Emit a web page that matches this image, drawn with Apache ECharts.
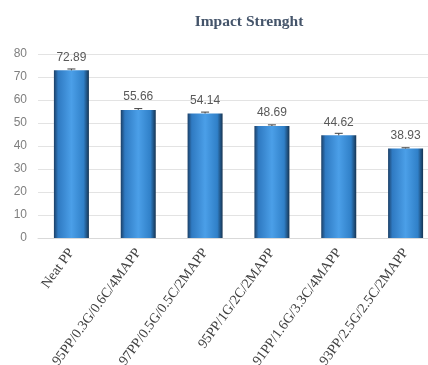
<!DOCTYPE html>
<html>
<head>
<meta charset="utf-8">
<script src="https://cdn.jsdelivr.net/npm/echarts@6/dist/echarts.min.js"></script>
<style>
  html, body { margin: 0; padding: 0; background: #fff; }
  #chart { width: 428px; height: 365px; }
</style>
</head>
<body>
<div id="chart"></div>
<script>
// 样本名称
var categories = ['Neat PP', '95PP/0.3G/0.6C/4MAPP', '97PP/0.5G/0.5C/2MAPP', '95PP/1G/2C/2MAPP', '91PP/1.6G/3.3C/4MAPP', '93PP/2.5G/2.5C/2MAPP'];
// 冲击强度
var impactValues = [72.89, 55.66, 54.14, 48.69, 44.62, 38.93];
// 误差（估计）
var errorValues = [0.6, 0.6, 0.6, 0.5, 0.9, 0.3];
var yTicks = { min: 0, max: 80, interval: 10 };

var chart = echarts.init(document.getElementById('chart'));

var barColor = new echarts.graphic.LinearGradient(0, 0, 1, 0, [
    { offset: 0, color: '#1b3f66' },
    { offset: 0.12, color: '#2f7ac2' },
    { offset: 0.5, color: '#4b9fe8' },
    { offset: 0.85, color: '#3080c8' },
    { offset: 1, color: '#163452' }
]);

var option = {
    animation: false,
    title: {
        text: 'Impact Strenght',
        left: 244,
        textAlign: 'center',
        top: 9,
        textStyle: {
            fontFamily: 'Liberation Serif',
            fontWeight: 'bold',
            fontSize: 15.5,
            color: '#44546a'
        }
    },
    grid: {
        left: 38,
        right: -11,
        top: 54,
        bottom: 127,
        containLabel: false,
        outerBoundsMode: 'none'
    },
    xAxis: {
        type: 'category',
        data: categories,
        axisLine: { show: true, lineStyle: { color: '#d9d9d9' } },
        axisTick: { show: false },
        axisLabel: {
            rotate: 54,
            interval: 0,
            margin: 12,
            fontFamily: 'Liberation Serif',
            fontSize: 14,
            color: '#404040'
        }
    },
    yAxis: {
        type: 'value',
        min: yTicks.min,
        max: yTicks.max,
        interval: yTicks.interval,
        axisLine: { show: false },
        axisTick: { show: false },
        splitLine: { lineStyle: { color: '#e3e3e3' } },
        axisLabel: {
            margin: 11,
            fontFamily: 'Liberation Sans',
            fontSize: 12,
            color: '#7f7f7f'
        }
    },
    series: [
        {
            type: 'bar',
            data: impactValues,
            barWidth: 35,
            itemStyle: {
                color: barColor
            },
            label: {
                show: true,
                position: 'top',
                distance: 7,
                fontFamily: 'Liberation Sans',
                fontSize: 12,
                color: '#595959'
            },
            z: 2
        },
        {
            type: 'custom',
            z: 3,
            data: impactValues.map(function (v, i) { return [i, v, errorValues[i]]; }),
            renderItem: function (params, api) {
                var x = api.value(0);
                var v = api.value(1);
                var e = api.value(2);
                var hi = api.coord([x, v + e]);
                var lo = api.coord([x, v]);
                var hw = 4;
                var style = { stroke: '#404040', lineWidth: 1 };
                return {
                    type: 'group',
                    children: [
                        { type: 'line', shape: { x1: hi[0], y1: hi[1], x2: lo[0], y2: lo[1] }, style: style },
                        { type: 'line', shape: { x1: hi[0] - hw, y1: hi[1], x2: hi[0] + hw, y2: hi[1] }, style: style }
                    ]
                };
            }
        }
    ]
};

chart.setOption(option);
</script>
</body>
</html>
